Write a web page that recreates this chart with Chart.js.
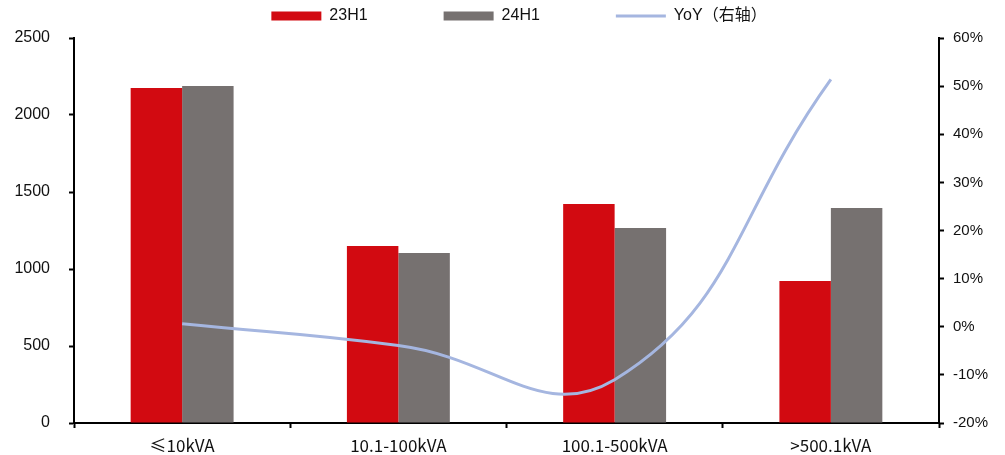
<!DOCTYPE html>
<html>
<head>
<meta charset="utf-8">
<script src="https://cdn.jsdelivr.net/npm/chart.js@4"></script>
<style>
  html, body { margin: 0; padding: 0; background: #fff; }
</style>
</head>
<body>
<canvas id="chart" width="1005" height="455"></canvas>
<script>
// Data
const categories = ["≤10kVA", "10.1-100kVA", "100.1-500kVA", ">500.1kVA"];
const h1_2023 = [2175, 1149, 1422, 922];
const h1_2024 = [2188, 1104, 1266, 1396];
const yoy = [0.6, -3.9, -11.0, 51.4]; // %
const leftTicks = [0, 500, 1000, 1500, 2000, 2500];
const rightTicks = [-20, -10, 0, 10, 20, 30, 40, 50, 60];

const latinFont = '"Liberation Sans", "Noto Sans CJK SC", sans-serif';
const cjkFont = '"Noto Sans CJK SC", "Liberation Sans", sans-serif';

const legendPad = 76;
const legendSize = 16;

// legend placement tweak (legend sits above the plot area)
const legendTweak = {
  id: "legendTweak",
  beforeLayout(chart) {
    const legend = chart.legend;
    if (!legend._origFit) {
      legend._origFit = legend.fit;
      legend.fit = function () {
        this._origFit();
        this.height = 38;
      };
    }
  },
  afterLayout(chart) {
    chart.legend.top = 16 - legendPad - legendSize / 2;
    chart.legend.left += 33;
  }
};

const ctx = document.getElementById("chart").getContext("2d");

const chart = new Chart(ctx, {
  type: "bar",
  data: {
    labels: categories,
    datasets: [
      {
        label: "23H1",
        data: h1_2023,
        backgroundColor: "#D20A11",
        pointStyle: "rect",
        yAxisID: "y",
        order: 2
      },
      {
        label: "24H1",
        data: h1_2024,
        backgroundColor: "#767170",
        pointStyle: "rect",
        yAxisID: "y",
        order: 2
      },
      {
        type: "line",
        label: "YoY（右轴）",
        data: yoy,
        borderColor: "#A5B6E0",
        backgroundColor: "#A5B6E0",
        borderWidth: 3,
        pointRadius: 0,
        pointStyle: "line",
        tension: 0.45,
        yAxisID: "y1",
        order: 1
      }
    ]
  },
  options: {
    responsive: false,
    animation: false,
    maintainAspectRatio: false,
    devicePixelRatio: 1,
    layout: { padding: 0 },
    datasets: {
      bar: {
        categoryPercentage: 0.476,
        barPercentage: 1
      }
    },
    plugins: {
      tooltip: { enabled: false },
      legend: {
        position: "top",
        labels: {
          usePointStyle: true,
          pointStyleWidth: 50,
          boxHeight: 9,
          padding: legendPad,
          color: "#111",
          font: { family: latinFont, size: legendSize },
          sort: (a, b) => a.datasetIndex - b.datasetIndex
        }
      }
    },
    scales: {
      x: {
        grid: {
          display: true,
          drawOnChartArea: false,
          drawTicks: true,
          tickLength: 5,
          tickColor: "#000",
          tickWidth: 2,
          offset: true
        },
        border: { display: true, color: "#000", width: 2 },
        ticks: {
          color: "#111",
          padding: 7,
          maxRotation: 0,
          autoSkip: false,
          font: { family: cjkFont, size: 17 }
        },
        afterFit(scale) {
          scale.height = 32;
        }
      },
      y: {
        position: "left",
        min: 0,
        max: 2500,
        afterBuildTicks(scale) {
          scale.ticks = leftTicks.map(v => ({ value: v }));
        },
        grid: {
          drawOnChartArea: false,
          tickLength: 5,
          tickColor: "#000",
          tickWidth: 2
        },
        border: { display: true, color: "#000", width: 2 },
        ticks: {
          color: "#111",
          padding: 19,
          autoSkip: false,
          font: { family: latinFont, size: 16 },
          callback: v => String(v)
        },
        afterFit(scale) {
          scale.width = 74;
        }
      },
      y1: {
        position: "right",
        min: -20,
        max: 60,
        afterBuildTicks(scale) {
          scale.ticks = rightTicks.map(v => ({ value: v }));
        },
        grid: {
          drawOnChartArea: false,
          tickLength: 5,
          tickColor: "#000",
          tickWidth: 2
        },
        border: { display: true, color: "#000", width: 2 },
        ticks: {
          color: "#111",
          padding: 9,
          autoSkip: false,
          font: { family: latinFont, size: 15 },
          callback: v => v + "%"
        },
        afterFit(scale) {
          scale.width = 66;
        }
      }
    }
  },
  plugins: [legendTweak]
});
</script>
</body>
</html>
